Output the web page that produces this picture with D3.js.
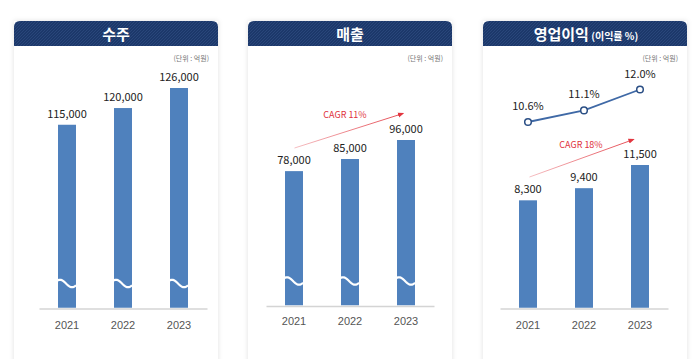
<!DOCTYPE html>
<html><head><meta charset="utf-8">
<script src="https://cdn.jsdelivr.net/npm/d3@7/dist/d3.min.js"></script>
<style>
html,body{margin:0;padding:0;background:#fff;}
svg{display:block;font-family:"Noto Sans CJK KR","Noto Sans",sans-serif;}
</style></head><body>
<svg id="c" width="700" height="359"></svg>
<script>
const years = ["2021","2022","2023"];
const orders = [115000,120000,126000];
const sales = [78000,85000,96000];
const opProfit = [8300,9400,11500];
const margin = [10.6,11.1,12.0];
const titles = ["수주","매출","영업이익"];
const unitLabel = "(단위 : 억원)";
const cagrLabels = ["CAGR 11%","CAGR 18%"];

const svg = d3.select("#c");
const defs = svg.append("defs");
const pat = defs.append("pattern").attr("id","hatch").attr("patternUnits","userSpaceOnUse")
  .attr("width",3).attr("height",3);
pat.append("rect").attr("width",3).attr("height",3).attr("fill","#1c386a");
pat.append("path").attr("d","M0,3 L3,0 M-1,1 L1,-1 M2,4 L4,2").attr("stroke","#2c4a7e").attr("stroke-width",0.8);
const f = defs.append("filter").attr("id","sh").attr("x","-10%").attr("y","-10%").attr("width","120%").attr("height","130%");
f.append("feDropShadow").attr("dx",0).attr("dy",0).attr("stdDeviation",2.5).attr("flood-color","#000").attr("flood-opacity",0.12);
const grad = defs.append("linearGradient").attr("id","ag").attr("x1","0").attr("x2","1");
grad.append("stop").attr("offset","0").attr("stop-color","#f4b8bc");
grad.append("stop").attr("offset","1").attr("stop-color","#e2363f");
defs.append("marker").attr("id","ah").attr("viewBox","0 0 10 10").attr("refX",8).attr("refY",5)
  .attr("markerWidth",7).attr("markerHeight",7).attr("orient","auto")
  .append("path").attr("d","M0,1 L10,5 L0,9 Z").attr("fill","#e2363f");

const panels = [
  {x0:14, x1:218, axis:[39,207], base:308.5, data:orders, domain:[60000,126000], top:88, brk:true},
  {x0:248, x1:452, axis:[266,434], base:306, data:sales, domain:[0,96000], top:140, brk:true},
  {x0:483, x1:687, axis:[500,668], base:308.5, data:opProfit, domain:[-1500,11500], top:165, brk:false}
];

panels.forEach((p,i)=>{
  const g = svg.append("g");
  // card
  g.append("rect").attr("x",p.x0).attr("y",21).attr("width",p.x1-p.x0).attr("height",345)
    .attr("fill","#fff").attr("filter","url(#sh)");
  // header with rounded top
  const w = p.x1-p.x0, r=6, h=25;
  g.append("path").attr("d",`M${p.x0},${21+h} V${21+r} Q${p.x0},21 ${p.x0+r},21 H${p.x1-r} Q${p.x1},21 ${p.x1},${21+r} V${21+h} Z`)
    .attr("fill","url(#hatch)");
  const cx = (p.x0+p.x1)/2;
  const t = g.append("text").attr("y",39.5).attr("text-anchor","middle").attr("fill","#fff")
    .attr("font-weight","bold").attr("font-size",15);
  if(i===2){
    t.attr("x",cx+1);
    t.append("tspan").text(titles[i]);
    t.append("tspan").attr("font-size",10).text(" (이익률 %)");
  } else {
    t.attr("x",cx).text(titles[i]);
  }
  g.append("text").attr("x",p.x1-9).attr("y",60.5).attr("text-anchor","end").attr("font-size",7)
    .attr("fill","#777").text(unitLabel);

  const x = d3.scaleBand().domain(years).range(p.axis).paddingInner(0.679).paddingOuter(0.3395);
  const y = d3.scaleLinear().domain(p.domain).range([p.base, p.top]);
  const ax = g.append("g").attr("transform",`translate(0,${p.base})`)
    .call(d3.axisBottom(x).tickSize(0).tickSizeOuter(0).tickPadding(i===1?11:13));
  ax.select(".domain").attr("stroke","#d4d4d4").attr("stroke-width",1.5);
  ax.selectAll("text").attr("font-size",11).attr("fill","#555").attr("font-family","inherit");

  g.selectAll("rect.bar").data(p.data).join("rect").attr("class","bar")
    .attr("x",(d,j)=>x(years[j])).attr("width",x.bandwidth())
    .attr("y",d=>y(d)).attr("height",d=>p.base-0.75-y(d)).attr("fill","#4f81bd");
  g.selectAll("text.val").data(p.data).join("text").attr("class","val")
    .attr("x",(d,j)=>x(years[j])+x.bandwidth()/2).attr("y",d=>y(d)-7)
    .attr("text-anchor","middle").attr("font-size",11).attr("fill","#222")
    .text(d=>d3.format(",")(d));

  if(p.brk){
    const yc = p.base-25;
    g.selectAll("path.brk").data(years).join("path").attr("class","brk")
      .attr("d",yr=>{
        const bx = x(yr), bw = x.bandwidth();
        const pts = d3.range(-1, bw+1.01, 1).map(tt=>[bx+tt, yc - 3.7*Math.cos(2*Math.PI*(tt-2)/24)]);
        return d3.line()(pts);
      })
      .attr("fill","none").attr("stroke","#fff").attr("stroke-width",2.2);
  }
  p.x = x; p.y = y; p.g = g;
});

// CAGR arrows
const arrows = [
  {p:panels[1], from:[294.5,148], to:[403,113.5], tx:345, ty:117.5},
  {p:panels[2], from:[529.5,177], to:[633.5,139.5], tx:581, ty:147.5}
];
arrows.forEach((a,k)=>{
  a.p.g.append("line").attr("x1",a.from[0]).attr("y1",a.from[1]).attr("x2",a.to[0]).attr("y2",a.to[1])
    .attr("stroke","url(#ag)").attr("stroke-width",0.9).attr("marker-end","url(#ah)");
  a.p.g.append("text").attr("x",a.tx).attr("y",a.ty).attr("text-anchor","middle")
    .attr("font-size",9).attr("fill","#e0313b").text(cagrLabels[k]);
});

// margin line
const p3 = panels[2];
const ym = d3.scaleLinear().domain([10.6,12.0]).range([122,89.5]);
const cxm = (d,j)=>p3.x(years[j])+p3.x.bandwidth()/2;
p3.g.append("path").datum(margin).attr("d",d3.line().x(cxm).y(d=>ym(d)))
  .attr("fill","none").attr("stroke","#3f69a6").attr("stroke-width",1.8);
p3.g.selectAll("circle.m").data(margin).join("circle").attr("class","m")
  .attr("cx",cxm).attr("cy",d=>ym(d)).attr("r",3.3)
  .attr("fill","#fff").attr("stroke","#2b4f85").attr("stroke-width",1.5);
p3.g.selectAll("text.m").data(margin).join("text").attr("class","m")
  .attr("x",cxm).attr("y",d=>ym(d)-12).attr("text-anchor","middle").attr("font-size",11).attr("fill","#222")
  .text(d=>d.toFixed(1)+"%");
</script>
</body></html>
